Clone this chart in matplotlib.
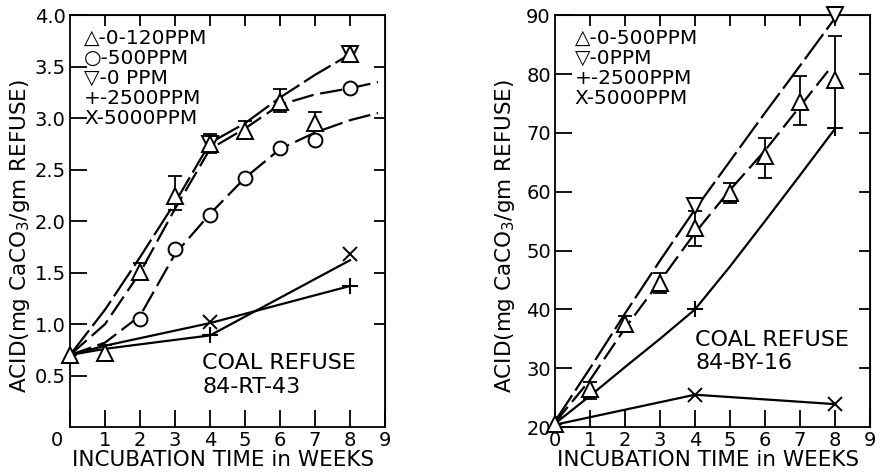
import matplotlib
matplotlib.use("Agg")
import matplotlib.pyplot as plt
from matplotlib.transforms import ScaledTranslation

plt.rcParams["font.family"] = ["DejaVu Sans"]
plt.rcParams["mathtext.default"] = "regular"

# ---- Left panel: coal refuse 84-RT-43 ----
rt_weeks = [0, 1, 2, 3, 4, 5, 6, 7, 8]
rt_tri = [0.70, 0.72, 1.51, 2.24, 2.75, 2.88, 3.16, 2.95, 3.62]
rt_tri_lo = [0.0, 0.07, 0.07, 0.13, 0.09, 0.08, 0.10, 0.06, 0.05]
rt_tri_hi = [0.0, 0.08, 0.08, 0.20, 0.10, 0.09, 0.12, 0.11, 0.06]
rt_circ_wk = [2, 3, 4, 5, 6, 7, 8]
rt_circ = [1.05, 1.73, 2.06, 2.42, 2.71, 2.79, 3.29]
rt_down_wk = [4, 8]
rt_down = [2.75, 3.62]
rt_plus_wk = [4, 8]
rt_plus = [0.89, 1.37]
rt_x_wk = [4, 8]
rt_x = [1.02, 1.68]

# hand-drawn fit curves
rt_fit1_x = [0, 1, 2, 3, 4, 5, 6, 7, 8]
rt_fit1_y = [0.70, 1.14, 1.65, 2.18, 2.76, 2.95, 3.20, 3.42, 3.62]
rt_fit2_x = [0, 1, 2, 3, 4, 5, 6, 7, 8, 8.8]
rt_fit2_y = [0.70, 1.00, 1.50, 2.12, 2.70, 2.90, 3.13, 3.23, 3.29, 3.35]
rt_fit3_x = [0, 1, 2, 3, 4, 5, 6, 7, 8, 8.8]
rt_fit3_y = [0.70, 0.82, 1.08, 1.68, 2.07, 2.42, 2.70, 2.86, 2.98, 3.05]
rt_fit4_x = [0, 1, 4, 8]
rt_fit4_y = [0.70, 0.76, 0.89, 1.62]
rt_fit5_x = [0, 1, 4, 8]
rt_fit5_y = [0.70, 0.79, 1.01, 1.37]

# ---- Right panel: coal refuse 84-BY-16 ----
by_weeks = [0, 1, 2, 3, 4, 5, 6, 7, 8]
by_tri = [20.5, 26.5, 37.6, 44.4, 53.8, 59.8, 66.0, 75.3, 78.9]
by_tri_lo = [0.0, 1.7, 1.4, 1.7, 3.0, 1.7, 3.7, 4.0, 8.0]
by_tri_hi = [1.2, 1.2, 1.2, 1.7, 3.0, 1.7, 3.2, 4.4, 7.6]
by_down_wk = [4, 8]
by_down = [57.6, 90.0]
by_plus_wk = [4, 8]
by_plus = [40.0, 70.9]
by_x_wk = [4, 8]
by_x = [25.5, 23.9]

by_fit1_x = [0, 1, 2, 3, 4, 5, 6, 7, 8]
by_fit1_y = [21.0, 30.0, 39.3, 48.3, 57.0, 65.2, 73.4, 81.4, 89.5]
by_fit2_x = [0, 1, 2, 3, 4, 5, 6, 7, 7.8]
by_fit2_y = [20.8, 28.0, 36.8, 44.8, 53.0, 60.3, 67.0, 74.5, 80.5]
by_fit3_x = [0, 1, 2, 3, 4, 5, 6, 7, 8]
by_fit3_y = [20.6, 25.3, 30.2, 35.0, 40.0, 47.3, 55.0, 62.8, 70.7]
by_fit4_x = [0, 4, 8]
by_fit4_y = [20.4, 25.5, 23.9]

rt_legend = ["\u25b3-0-120PPM", "\u25cb-500PPM", "\u25bd-0 PPM", "+-2500PPM", "X-5000PPM"]
by_legend = ["\u25b3-0-500PPM", "\u25bd-0PPM", "+-2500PPM", "X-5000PPM"]

week_ticks = list(range(10))
LW = 1.6
K = "black"
mk = dict(mfc="white", mec=K, mew=1.4, ls="none", zorder=4, clip_on=False)

fig = plt.figure(figsize=(8.81, 4.74), dpi=100)
ax1 = fig.add_axes([0.0795, 0.099, 0.3575, 0.869])
ax2 = fig.add_axes([0.630, 0.099, 0.3575, 0.869])


def frame(ax, yticks, ylim, fmt):
    ax.set_xlim(0, 9)
    ax.set_ylim(*ylim)
    ax.set_xticks(week_ticks)
    ax.set_yticks(yticks)
    ax.set_yticklabels([fmt.format(v) for v in yticks])
    ax.tick_params(axis="both", direction="in", width=1.3, labelsize=14, colors=K)
    ax.tick_params(axis="x", length=12, pad=3)
    ax.tick_params(axis="y", length=12, pad=3)
    for s in ax.spines.values():
        s.set_linewidth(1.3)
    top = ax.secondary_xaxis("top")
    top.set_xticks(week_ticks[1:-1])
    top.tick_params(direction="in", length=8, width=1.3, labeltop=False)
    right = ax.secondary_yaxis("right")
    right.set_yticks(yticks[1:-1])
    right.tick_params(direction="in", length=8, width=1.3, labelright=False)
    ax.set_xlabel("INCUBATION TIME in WEEKS", fontsize=15.5, va="center")
    ax.xaxis.set_label_coords(0.485, -0.08)
    ax.set_ylabel("ACID(mg CaCO$_3$/gm REFUSE)", fontsize=15.5, va="center")
    ax.yaxis.set_label_coords(-0.16, 0.465)


# left panel
ax = ax1
frame(ax, [0.5, 1.0, 1.5, 2.0, 2.5, 3.0, 3.5, 4.0], (0, 4.0), "{:.1f}")
ax.plot(rt_fit1_x, rt_fit1_y, color=K, lw=LW, dashes=(14, 2.5))
ax.plot(rt_fit2_x, rt_fit2_y, color=K, lw=LW, dashes=(10, 3))
ax.plot(rt_fit3_x, rt_fit3_y, color=K, lw=LW, dashes=(10, 3))
ax.plot(rt_fit4_x, rt_fit4_y, color=K, lw=LW)
ax.plot(rt_fit5_x, rt_fit5_y, color=K, lw=LW)
ax.errorbar(rt_weeks, rt_tri, yerr=[rt_tri_lo, rt_tri_hi], fmt="none",
            ecolor=K, elinewidth=1.3, capsize=5, capthick=1.3, zorder=3)
ax.plot(rt_circ_wk, rt_circ, marker="o", ms=10, **mk)
ax.plot(rt_down_wk, rt_down, marker="v", ms=12, **mk)
ax.plot(rt_weeks, rt_tri, marker="^", ms=12, **mk)
ax.plot(rt_plus_wk, rt_plus, marker="+", ms=12, mec=K, mew=1.5, ls="none", zorder=4)
ax.plot(rt_x_wk, rt_x, marker="x", ms=10, mec=K, mew=1.4, ls="none", zorder=4)
for i, s in enumerate(rt_legend):
    ax.text(0.045, 0.944 - i * 0.0485, s, transform=ax.transAxes,
            fontsize=14.5, ha="left", va="center")
ax.text(0.42, 0.155, "COAL REFUSE", transform=ax.transAxes, fontsize=16, va="center")
ax.text(0.42, 0.097, "84-RT-43", transform=ax.transAxes, fontsize=16, va="center")
# the origin label sits left of the axis in the original
lbl = ax.get_xticklabels()[0]
lbl.set_transform(lbl.get_transform() + ScaledTranslation(-13 / 100, 0, fig.dpi_scale_trans))

# right panel
ax = ax2
frame(ax, [20, 30, 40, 50, 60, 70, 80, 90], (20, 90), "{:d}")
ax.plot(by_fit1_x, by_fit1_y, color=K, lw=LW, dashes=(14, 2.5))
ax.plot(by_fit2_x, by_fit2_y, color=K, lw=LW, dashes=(9, 3))
ax.plot(by_fit3_x, by_fit3_y, color=K, lw=LW)
ax.plot(by_fit4_x, by_fit4_y, color=K, lw=LW)
ax.errorbar(by_weeks, by_tri, yerr=[by_tri_lo, by_tri_hi], fmt="none",
            ecolor=K, elinewidth=1.3, capsize=5, capthick=1.3, zorder=3)
ax.plot(by_down_wk, by_down, marker="v", ms=12, **mk)
ax.plot(by_weeks, by_tri, marker="^", ms=12, **mk)
ax.plot(by_plus_wk, by_plus, marker="+", ms=12, mec=K, mew=1.5, ls="none", zorder=4)
ax.plot(by_x_wk, by_x, marker="x", ms=10, mec=K, mew=1.4, ls="none", zorder=4)
for i, s in enumerate(by_legend):
    ax.text(0.063, 0.944 - i * 0.0485, s, transform=ax.transAxes,
            fontsize=14.5, ha="left", va="center")
ax.text(0.445, 0.211, "COAL REFUSE", transform=ax.transAxes, fontsize=16, va="center")
ax.text(0.445, 0.155, "84-BY-16", transform=ax.transAxes, fontsize=16, va="center")

fig.savefig("out.png", dpi=100, facecolor="white")
